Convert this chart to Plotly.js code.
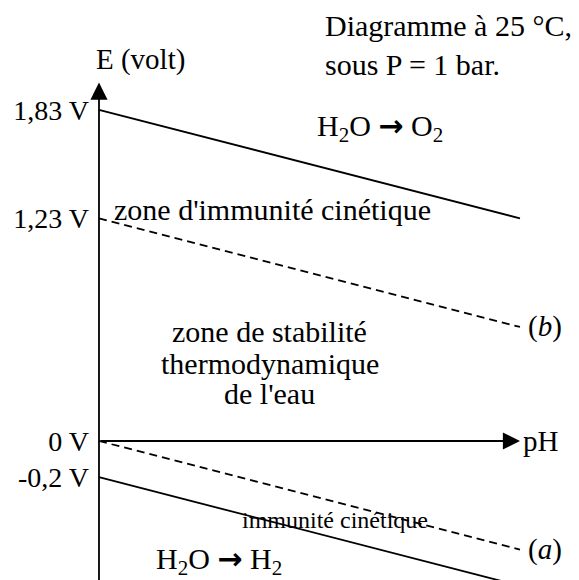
<!DOCTYPE html>
<html>
<head>
<meta charset="utf-8">
<script src="https://cdn.plot.ly/plotly-3.0.1.min.js"></script>
<style>
  html, body { margin: 0; padding: 0; background: #fff; }
  #chart { width: 579px; height: 580px; }
</style>
</head>
<body>
<div id="chart"></div>
<script>
// Potential-pH diagram of water at 25 °C, P = 1 bar
const pH = [0, 10];
const E_O2_overvoltage = [1.83, 1.23];   // oxidation with kinetic overvoltage (solid)
const E_O2_H2O = [1.23, 0.63];           // couple O2/H2O, line (b)
const E_H2O_H2 = [0, -0.6];              // couple H+/H2, line (a)
const E_H2_overvoltage = [-0.2, -0.8];   // reduction with kinetic overvoltage (solid)

const tickVals = [1.83, 1.23, 0, -0.2];
const tickText = ['1,83 V', '1,23 V', '0 V', '-0,2 V'];

const axisEnd = { pH: 10, E: 1.98 };     // arrow tips of the axes

const stabilityLines = ['zone de stabilité', 'thermodynamique', "de l'eau"];

const ink = '#000';
const serif = 'Liberation Serif, Times New Roman, serif';
const arrowGlyph = '<span style="font-family:DejaVu Sans;font-weight:bold">→</span>';

function line(y, dash) {
  return {
    x: pH, y: y, type: 'scatter', mode: 'lines',
    line: { color: ink, width: 1.8, dash: dash },
    hoverinfo: 'skip'
  };
}

const traces = [
  line(E_O2_overvoltage, 'solid'),
  line(E_O2_H2O, '8px,5px'),
  line(E_H2O_H2, '8px,5px'),
  line(E_H2_overvoltage, 'solid')
];

function paperText(text, x, y, opts) {
  return Object.assign({
    text: text, x: x, y: y, xref: 'paper', yref: 'paper',
    showarrow: false, font: { family: serif, size: 30, color: ink }
  }, opts || {});
}

function axisArrow(x, y, ax, ay) {
  return { x: x, y: y, ax: ax, ay: ay, xref: 'x', yref: 'y', axref: 'x', ayref: 'y',
    text: '', showarrow: true, arrowhead: 2, arrowsize: 1.9, arrowwidth: 1.8, arrowcolor: ink };
}

const annotations = [
  // axes drawn as arrows
  axisArrow(axisEnd.pH, 0, 0, 0),
  axisArrow(0, axisEnd.E, 0, -1),

  // axis names
  { x: axisEnd.pH, y: 0, xref: 'x', yref: 'y', text: 'pH', showarrow: false,
    xanchor: 'left', yanchor: 'middle', xshift: 1,
    font: { family: serif, size: 29, color: ink } },
  paperText('E (volt)', 0.2418, 0.897, { xanchor: 'center', yanchor: 'middle', font: { family: serif, size: 29, color: ink } }),

  // line labels
  { x: pH[1], y: E_O2_H2O[1], xref: 'x', yref: 'y', text: '(<i>b</i>)', showarrow: false,
    xanchor: 'left', yanchor: 'middle', xshift: 6,
    font: { family: serif, size: 29, color: ink } },
  { x: pH[1], y: E_H2O_H2[1], xref: 'x', yref: 'y', text: '(<i>a</i>)', showarrow: false,
    xanchor: 'left', yanchor: 'middle', xshift: 6,
    font: { family: serif, size: 29, color: ink } },

  // zone labels
  paperText('Diagramme à 25 °C,<br>sous P = 1 bar.', 0.558, 0.922,
            { xanchor: 'left', yanchor: 'middle', align: 'left' }),
  paperText('H<sub>2</sub>O ' + arrowGlyph + ' O<sub>2</sub>', 0.656, 0.781,
            { xanchor: 'center', yanchor: 'middle' }),
  paperText("zone d'immunité cinétique", 0.193, 0.638,
            { xanchor: 'left', yanchor: 'middle' }),
  paperText('immunité cinétique', 0.4145, 0.104,
            { xanchor: 'left', yanchor: 'middle', font: { family: serif, size: 24, color: ink } }),
  paperText('H<sub>2</sub>O ' + arrowGlyph + ' H<sub>2</sub>', 0.378, 0.034,
            { xanchor: 'center', yanchor: 'middle' })
];

// the three lines of the central label, stacked with a tight line spacing
const stabilityY = [0.4293, 0.3741, 0.3224];
stabilityLines.forEach(function (t, i) {
  annotations.push(paperText(t, 0.466, stabilityY[i], { xanchor: 'center', yanchor: 'middle' }));
});

const layout = {
  width: 579, height: 580,
  margin: { l: 0, r: 0, t: 0, b: 0, pad: 0 },
  paper_bgcolor: '#fff', plot_bgcolor: '#fff',
  showlegend: false,
  xaxis: {
    range: [-2.3515, 11.402], showgrid: false, zeroline: false,
    showline: false, showticklabels: false, ticks: '', fixedrange: true
  },
  yaxis: {
    range: [-0.768, 2.4365], anchor: 'free', position: 0.171,
    showgrid: false, zeroline: false, showline: false, ticks: '',
    tickmode: 'array', tickvals: tickVals, ticktext: tickText,
    ticklabelstandoff: 10,
    tickfont: { family: serif, size: 28, color: ink },
    automargin: false, fixedrange: true
  },
  annotations: annotations
};

Plotly.newPlot('chart', traces, layout, { displayModeBar: false, staticPlot: true });
</script>
</body>
</html>
